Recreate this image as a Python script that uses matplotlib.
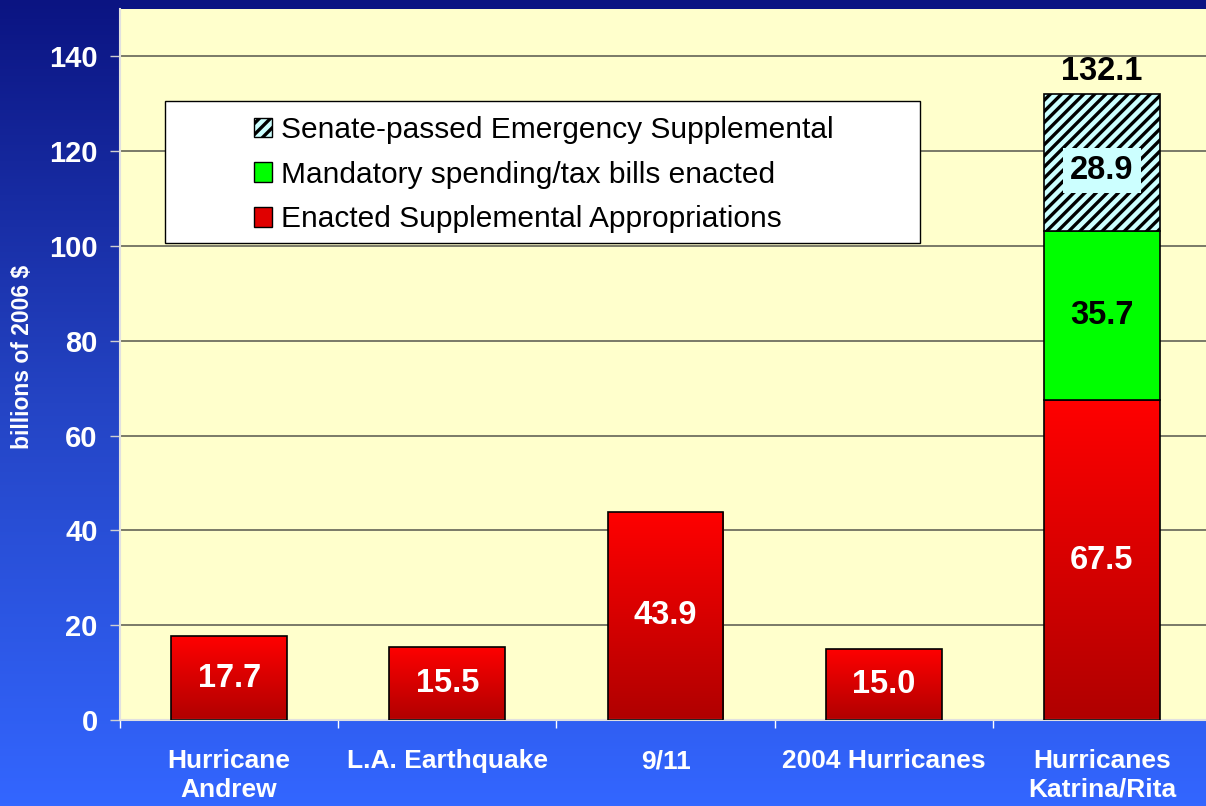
import numpy as np
import matplotlib
matplotlib.use('Agg')
import matplotlib.pyplot as plt
from matplotlib.patches import Rectangle, Patch
from matplotlib.colors import LinearSegmentedColormap

# ---- data ----
categories = ['Hurricane\nAndrew', 'L.A. Earthquake', '9/11', '2004 Hurricanes', 'Hurricanes\nKatrina/Rita']
enacted = [17.7, 15.5, 43.9, 15.0, 67.5]
mandatory = [0.0, 0.0, 0.0, 0.0, 35.7]
senate = [0.0, 0.0, 0.0, 0.0, 28.9]
series_names = ['Senate-passed Emergency Supplemental',
                'Mandatory spending/tax bills enacted',
                'Enacted Supplemental Appropriations']
yticks = [0, 20, 40, 60, 80, 100, 120, 140]
ylabel = 'billions of 2006 $'

plt.rcParams['font.family'] = ['Liberation Sans', 'DejaVu Sans']
plt.rcParams['hatch.linewidth'] = 2.4

W, H = 1206, 806
fig = plt.figure(figsize=(W / 100, H / 100), dpi=100)

# background gradient
bg = fig.add_axes([0, 0, 1, 1])
bg.axis('off')
grad = np.linspace(0, 1, 256).reshape(-1, 1)
bg_cmap = LinearSegmentedColormap.from_list('bg', ['#0B1482', '#2444C4', '#3366FF'])
bg.imshow(grad, aspect='auto', cmap=bg_cmap, extent=[0, 1, 0, 1], origin='upper')

ax = fig.add_axes([120 / W, 86 / H, 1091 / W, 711 / H])
ax.set_facecolor('#FFFFCC')

x = np.arange(len(categories))
enacted_a = np.array(enacted)
mand_a = np.array(mandatory)
sen_a = np.array(senate)
w = 0.53

red_cmap = LinearSegmentedColormap.from_list('red', ['#B00000', '#FF0000'])
b1 = ax.bar(x, enacted_a, w, color='none', edgecolor='black', lw=1.2, zorder=3)
for rect in b1:
    x0, y0, wd, h = rect.get_x(), rect.get_y(), rect.get_width(), rect.get_height()
    im = ax.imshow(grad, extent=[x0, x0 + wd, y0, y0 + h], cmap=red_cmap,
                   aspect='auto', origin='lower', zorder=2.5)
    im.set_clip_path(rect)

m = mand_a > 0
ax.bar(x[m], mand_a[m], w, bottom=enacted_a[m], color='#00FF00',
       edgecolor='black', lw=1.2, zorder=3)
s = sen_a > 0
ax.bar(x[s], sen_a[s], w, bottom=(enacted_a + mand_a)[s], color='#CCFFFF',
       edgecolor='black', lw=1.2, hatch='///', zorder=3)

# value labels
lab_kw = dict(ha='center', va='center', fontsize=23.5, fontweight='bold', zorder=6)
for i in x:
    ax.text(i, enacted_a[i] / 2, f'{enacted_a[i]:.1f}', color='white', **lab_kw)
    if mand_a[i] > 0:
        ax.text(i, enacted_a[i] + mand_a[i] / 2, f'{mand_a[i]:.1f}', color='black', **lab_kw)
    if sen_a[i] > 0:
        ax.annotate(f'{sen_a[i]:.1f}', (i, enacted_a[i] + mand_a[i] + sen_a[i] / 2),
                    xytext=(0, -6), textcoords='offset points', color='black',
                    bbox=dict(facecolor='#CCFFFF', edgecolor='none', pad=5), **lab_kw)
        total = enacted_a[i] + mand_a[i] + sen_a[i]
        ax.annotate(f'{total:.1f}', (i, total), xytext=(0, 16), textcoords='offset points',
                    color='black', **lab_kw)

ax.set_xlim(-0.5, 4.5)
ax.set_ylim(0, 150)
ax.set_yticks(yticks)
ax.yaxis.grid(True, color='#707060', lw=1.3)
ax.set_axisbelow(True)

for sp in ['top', 'right']:
    ax.spines[sp].set_visible(False)
for sp in ['left', 'bottom']:
    ax.spines[sp].set_color('#E0E0E0')
    ax.spines[sp].set_linewidth(1.5)

ax.tick_params(axis='y', direction='out', length=7, width=1, color='#D0D0D0',
               labelcolor='white', labelsize=21, pad=9)
for t in ax.get_yticklabels():
    t.set_fontweight('bold')

ax.set_xticks(x, categories)
ax.tick_params(axis='x', which='major', length=0, labelcolor='white', labelsize=19, pad=21)
for t in ax.get_xticklabels():
    t.set_fontweight('bold')
    t.set_linespacing(1.25)
ax.set_xticks(np.arange(-0.5, len(categories), 1), minor=True)
ax.tick_params(axis='x', which='minor', direction='out', length=6, width=1, color='white')

fig.text(23 / W, 1 - 357 / H, ylabel, rotation=90, color='white', fontweight='bold',
         fontsize=16.5, va='center', ha='center')

# legend
ax.add_patch(Rectangle((45 / 1091, 477 / 711), 755 / 1091, 142 / 711, transform=ax.transAxes,
                       facecolor='white', edgecolor='black', lw=1, zorder=4))
handles = [Patch(facecolor='#CCFFFF', edgecolor='black', hatch='///'),
           Patch(facecolor='#00FF00', edgecolor='black'),
           Patch(facecolor='#E00000', edgecolor='black')]
leg = ax.legend(handles, series_names, loc='center', bbox_to_anchor=(0.3886, 0.767),
                frameon=False, fontsize=21.5, handlelength=0.62, handleheight=0.62,
                handletextpad=0.3, labelspacing=0.56)
leg.set_zorder(5)

fig.savefig('out.png', dpi=100)
